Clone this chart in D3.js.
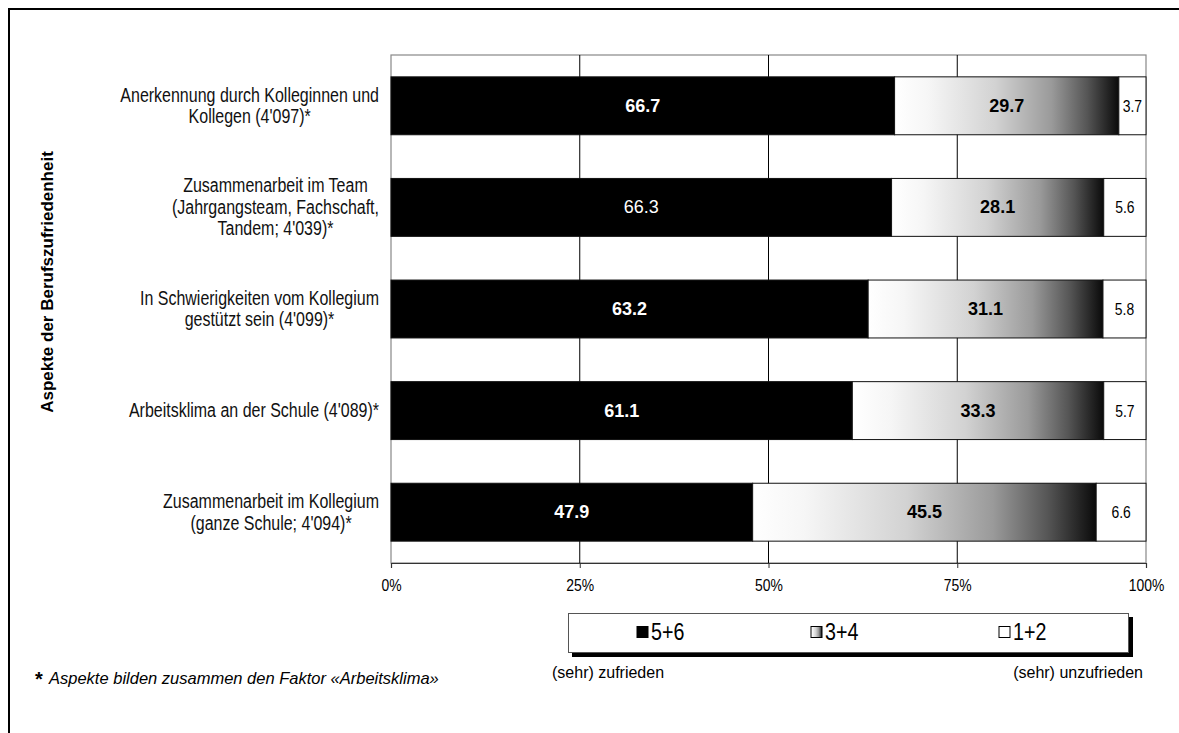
<!DOCTYPE html>
<html><head><meta charset="utf-8">
<script src="https://cdn.jsdelivr.net/npm/d3@7/dist/d3.min.js"></script>
<style>body{margin:0;background:#fff}svg{display:block}</style>
</head><body><svg id="c" width="1179" height="733"></svg>
<script>
const categories = [
  ["Anerkennung durch Kolleginnen und", "Kollegen (4'097)*"],
  ["Zusammenarbeit im Team", "(Jahrgangsteam, Fachschaft,", "Tandem; 4'039)*"],
  ["In Schwierigkeiten vom Kollegium", "gestützt sein (4'099)*"],
  ["Arbeitsklima an der Schule (4'089)*"],
  ["Zusammenarbeit im Kollegium", "(ganze Schule; 4'094)*"]
];
const satisfied   = [66.7, 66.3, 63.2, 61.1, 47.9];
const middle      = [29.7, 28.1, 31.1, 33.3, 45.5];
const unsatisfied = [3.7, 5.6, 5.8, 5.7, 6.6];
const seriesKeys   = ["s56", "s34", "s12"];
const seriesLabels = ["5+6", "3+4", "1+2"];
const tickValues = [0, 25, 50, 75, 100];
const tickLabels = ["0%", "25%", "50%", "75%", "100%"];
const axisTitle = "Aspekte der Berufszufriedenheit";
const footnote = "Aspekte bilden zusammen den Faktor «Arbeitsklima»";
const poleLabels = ["(sehr) zufrieden", "(sehr) unzufrieden"];

const rows = categories.map((c, i) => ({id: i, s56: satisfied[i], s34: middle[i], s12: unsatisfied[i]}));

const svg = d3.select("#c");
const SANS = "'Liberation Sans',Arial,sans-serif";
const NX = 0.82; // horizontal condensing to mimic Arial Narrow

function narrow(parent, px, py, opts) {
  const g = parent.append("g").attr("transform", `translate(${px},${py}) scale(${NX},1)`);
  const t = g.append("text").attr("x", 0).attr("y", 0)
    .attr("text-anchor", opts.anchor || "start").attr("dominant-baseline", "central")
    .attr("font-family", SANS).attr("font-size", opts.size).attr("fill", opts.fill || "#000")
    .text(opts.text);
  return t;
}

// gradient
const defs = svg.append("defs");
const grad = defs.append("linearGradient").attr("id", "g34").attr("x1", 0).attr("x2", 1).attr("y1", 0).attr("y2", 0);
[[0, "#ffffff"], [0.15, "#f6f6f6"], [0.45, "#d2d2d2"], [0.7, "#9a9a9a"], [0.86, "#555555"], [1, "#0a0a0a"]]
  .forEach(([o, c]) => grad.append("stop").attr("offset", o).attr("stop-color", c));
const fills = {s56: "#000000", s34: "url(#g34)", s12: "#ffffff"};

// outer frame
svg.append("path").attr("d", "M9,733V9H1179").attr("fill", "none").attr("stroke", "#000").attr("stroke-width", 2);

const x = d3.scaleLinear().domain([0, 100]).range([391, 1146]);
const y = d3.scaleBand().domain(rows.map(d => d.id)).range([55, 563]).paddingInner(0.43).paddingOuter(0.215);

// plot border
svg.append("rect").attr("x", x(0)).attr("y", 55).attr("width", x(100) - x(0)).attr("height", 563 - 55)
  .attr("fill", "none").attr("stroke", "#888").attr("stroke-width", 1.2);

// gridlines
svg.append("g").selectAll("line").data(tickValues.slice(1, -1)).join("line")
  .attr("x1", d => x(d)).attr("x2", d => x(d)).attr("y1", 55).attr("y2", 563)
  .attr("stroke", "#000").attr("stroke-width", 1);

// axis
const xAxis = d3.axisBottom(x).tickValues(tickValues).tickFormat(() => "").tickSize(5);
const ax = svg.append("g").attr("transform", "translate(0,563)").call(xAxis);
ax.select(".domain").attr("stroke", "#333").attr("stroke-width", 1.2);
ax.selectAll(".tick line").attr("stroke", "#333");
ax.selectAll(".tick").each(function(d, i) {
  narrow(d3.select(this), 0, 22, {text: tickLabels[i], size: 17, anchor: "middle"});
});

// bars
const stack = d3.stack().keys(seriesKeys)(rows);
const bars = svg.append("g");
stack.forEach(layer => {
  bars.append("g").selectAll("rect").data(layer).join("rect")
    .attr("x", d => x(d[0])).attr("y", d => y(d.data.id))
    .attr("width", d => x(Math.min(d[1], 100)) - x(d[0])).attr("height", y.bandwidth())
    .attr("fill", fills[layer.key]).attr("stroke", "#111").attr("stroke-width", 1);
});
// value labels
const labG = svg.append("g");
stack.forEach(layer => {
  layer.forEach(d => {
    const cx = (x(d[0]) + x(Math.min(d[1], 100))) / 2;
    const cy = y(d.data.id) + y.bandwidth() / 2;
    const txt = d.data[layer.key].toFixed(1);
    if (layer.key === "s12") {
      narrow(labG, cx, cy, {text: txt, size: 17, anchor: "middle"});
    } else {
      const plain = layer.key === "s56" && d.data.id === 1;
      labG.append("text").attr("x", cx).attr("y", cy)
        .attr("text-anchor", "middle").attr("dominant-baseline", "central")
        .attr("fill", layer.key === "s56" ? "#fff" : "#000")
        .attr("font-family", SANS).attr("font-weight", plain ? "normal" : "bold")
        .attr("font-size", 18).text(txt);
    }
  });
});

// category labels
const catG = svg.append("g");
categories.forEach((lines, i) => {
  const lh = 21.5;
  const cy = y(i) + y.bandwidth() / 2;
  const g = catG.append("g").attr("transform", `scale(${NX},1)`);
  const t = g.append("text").attr("font-family", SANS).attr("font-size", 19.5).attr("fill", "#111")
    .attr("text-anchor", "middle");
  const spans = lines.map((l, k) => t.append("tspan").attr("dominant-baseline", "central")
    .attr("y", cy + (k - (lines.length - 1) / 2) * lh).text(l));
  let maxW = 0;
  spans.forEach(s => { maxW = Math.max(maxW, s.node().getComputedTextLength()); });
  spans.forEach(s => s.attr("x", (379 / NX) - maxW / 2));
});

// axis title
svg.append("text").attr("transform", "translate(47,282) rotate(-90)")
  .attr("text-anchor", "middle").attr("dominant-baseline", "central")
  .attr("font-family", SANS).attr("font-weight", "bold").attr("font-size", 17).text(axisTitle);

// legend
const lg = svg.append("g");
lg.append("rect").attr("x", 572).attr("y", 617).attr("width", 561).attr("height", 40).attr("fill", "#000");
lg.append("rect").attr("x", 568.5).attr("y", 613.5).attr("width", 560).attr("height", 39)
  .attr("fill", "#fff").attr("stroke", "#555").attr("stroke-width", 1);
const legX = [637, 811, 999];
seriesKeys.forEach((k, i) => {
  lg.append("rect").attr("x", legX[i]).attr("y", 626.5).attr("width", 11).attr("height", 11)
    .attr("fill", fills[k]).attr("stroke", "#000").attr("stroke-width", 1);
  narrow(lg, legX[i] + 14, 632, {text: seriesLabels[i], size: 24});
});

// pole labels
svg.append("text").attr("x", 552).attr("y", 672).attr("dominant-baseline", "central")
  .attr("font-family", SANS).attr("font-size", 16).text(poleLabels[0]);
svg.append("text").attr("x", 1143).attr("y", 672).attr("text-anchor", "end").attr("dominant-baseline", "central")
  .attr("font-family", SANS).attr("font-size", 16).text(poleLabels[1]);

// footnote
svg.append("text").attr("x", 35).attr("y", 679).attr("dominant-baseline", "central")
  .attr("font-family", SANS).attr("font-weight", "bold").attr("font-size", 20).text("*");
svg.append("text").attr("x", 49).attr("y", 678).attr("dominant-baseline", "central")
  .attr("font-family", SANS).attr("font-style", "italic").attr("font-size", 16.5).text(footnote);
</script></body></html>
